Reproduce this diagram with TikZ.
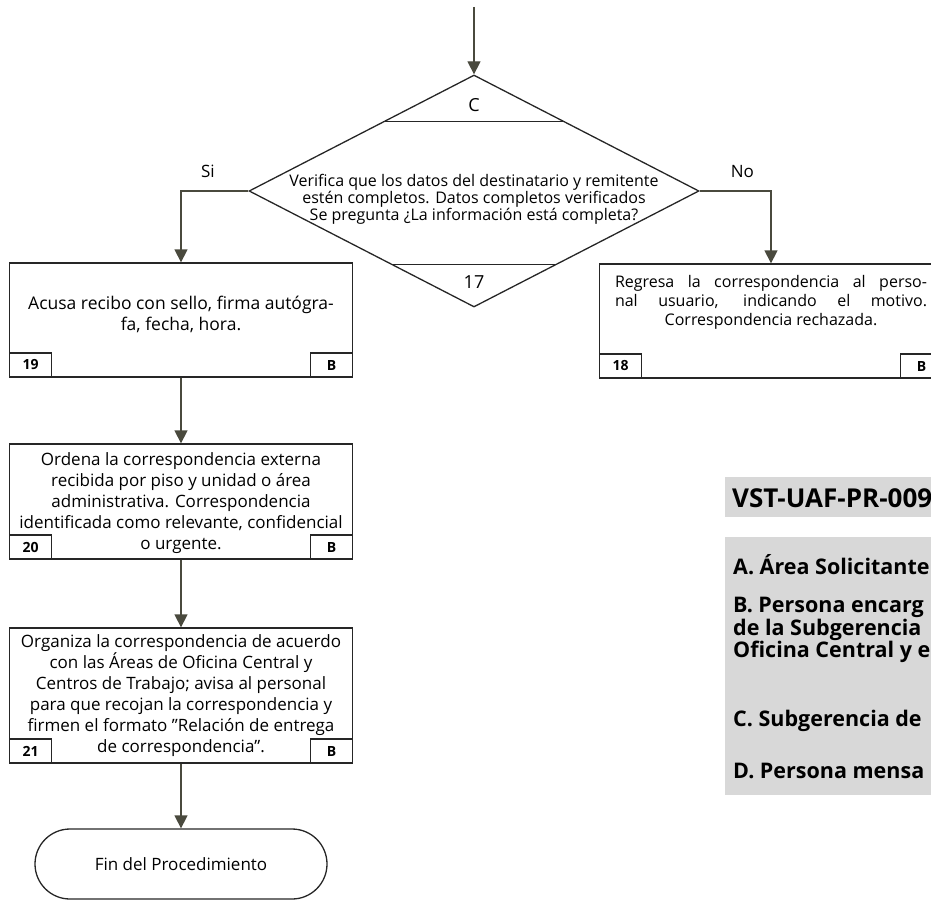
\documentclass[tikz,border=0pt]{standalone}
\usepackage{fontspec}
\setmainfont{Open Sans}
\usetikzlibrary{shapes.geometric,arrows.meta,calc}
\definecolor{flecha}{HTML}{4A4A3E}
\definecolor{leyenda}{HTML}{D8D8D8}

\begin{document}
\begin{tikzpicture}[x=1pt,y=-1pt,
		caja/.style={draw=black!85,line width=1.3pt,minimum width=343pt,inner sep=0pt},
		texto/.style={align=center,inner sep=0pt,font=\fontsize{17}{21}\selectfont},
		num/.style={draw=black!85,line width=1.3pt,minimum width=42pt,minimum height=24pt,inner sep=0pt,font=\fontsize{14}{14}\selectfont\bfseries},
		flujo/.style={draw=flecha,line width=1.3pt,-{Triangle[width=13pt,length=13pt]}},
		decision/.style={diamond,draw=black!85,line width=1.3pt,minimum width=450pt,minimum height=232pt,inner sep=0pt},
		fin/.style={draw=black!85,line width=1.3pt,rounded corners=35pt,minimum width=292pt,minimum height=70pt,font=\fontsize{17}{17}\selectfont},
		clave/.style={fill=leyenda,anchor=north west,inner sep=0pt,minimum width=220pt}]
	\useasboundingbox (0,0) rectangle (931,907);
	\coordinate (ini) at (474,7);
	\node[decision] (dec) at (474,191) {};
	\draw[black!85,line width=1.3pt] ($(dec.north)!0.405!(dec.west)$) -- ($(dec.north)!0.405!(dec.east)$);
	\draw[black!85,line width=1.3pt] ($(dec.south)!0.37!(dec.west)$) -- ($(dec.south)!0.37!(dec.east)$);
	\node[texto,font=\fontsize{18}{18}\selectfont] (c) at (474,105) {C};
	\node[texto,font=\fontsize{18}{18}\selectfont] (n17) at (474,282) {17};
	\node[texto,font=\fontsize{16}{17}\selectfont] (tdec) at (474,199) {Verifica que los datos del destinatario y remitente\\estén completos. Datos completos verificados\\Se pregunta ¿La información está completa?};

	\node[caja,minimum height=114pt] (b19) at (181,320) {};
	\node[texto,font=\fontsize{17.5}{21}\selectfont] (t19) at (181,314) {Acusa recibo con sello, firma autógra-\\fa, fecha, hora.};
	\node[num,anchor=south west] (n19) at (b19.south west) {19};
	\node[num,anchor=south east] (m19) at (b19.south east) {B};

	\node[caja,minimum height=114pt] (b18) at (771,321) {};
	\node[texto,text width=312pt,align=justify,font=\fontsize{16}{19}\selectfont] (t18) at (771,302) {\parfillskip=0pt Regresa la correspondencia al perso-\linebreak nal usuario, indicando el motivo.\par\centering Correspondencia rechazada.\par};
	\node[num,anchor=south west] (n18) at (b18.south west) {18};
	\node[num,anchor=south east] (m18) at (b18.south east) {B};

	\node[caja,minimum height=115pt] (b20) at (181,501.5) {};
	\node[texto] (t20) at (181,503) {Ordena la correspondencia externa\\recibida por piso y unidad o área\\administrativa. Correspondencia\\identificada como relevante, confidencial\\o urgente.};
	\node[num,anchor=south west] (n20) at (b20.south west) {20};
	\node[num,anchor=south east] (m20) at (b20.south east) {B};

	\node[caja,minimum height=135pt] (b21) at (181,695.5) {};
	\node[texto] (t21) at (181,695.5) {Organiza la correspondencia de acuerdo\\con las Áreas de Oficina Central y\\Centros de Trabajo; avisa al personal\\para que recojan la correspondencia y\\firmen el formato "Relación de entrega\\de correspondencia".};
	\node[num,anchor=south west] (n21) at (b21.south west) {21};
	\node[num,anchor=south east] (m21) at (b21.south east) {B};

	\node[fin] (fin) at (181,864) {Fin del Procedimiento};

	\draw[flujo] (ini) -- (dec.north);
	\draw[flujo] (dec.west) -| node[pos=0.3,above=13pt,inner sep=0pt,font=\fontsize{17}{17}\selectfont] (si) {Si} (b19.north);
	\draw[flujo] (dec.east) -| node[pos=0.3,above=13pt,inner sep=0pt,font=\fontsize{17}{17}\selectfont] (no) {No} (b18.north);
	\draw[flujo] (b19.south) -- (b20.north);
	\draw[flujo] (b20.south) -- (b21.north);
	\draw[flujo] (b21.south) -- (fin.north);

	\node[clave,minimum height=40pt] (titulo) at (725,477) {};
	\node[anchor=west,inner sep=0pt,font=\fontsize{26}{26}\selectfont\bfseries] (vst) at (732,498) {VST-UAF-PR-009};
	\node[clave,minimum height=258pt] (caja) at (725,537) {};
	\begin{scope}[every node/.style={anchor=west,align=left,inner sep=0pt,font=\fontsize{21.5}{17}\selectfont\bfseries}]
		\node (la) at (733,565) {A. Área Solicitante};
		\node (lb) at (733,630) {B. Persona encarg\\de la Subgerencia\\Oficina Central y e};
		\node (lc) at (733,721) {C. Subgerencia de};
		\node (ld) at (733,771) {D. Persona mensa};
	\end{scope}
\end{tikzpicture}
\end{document}
